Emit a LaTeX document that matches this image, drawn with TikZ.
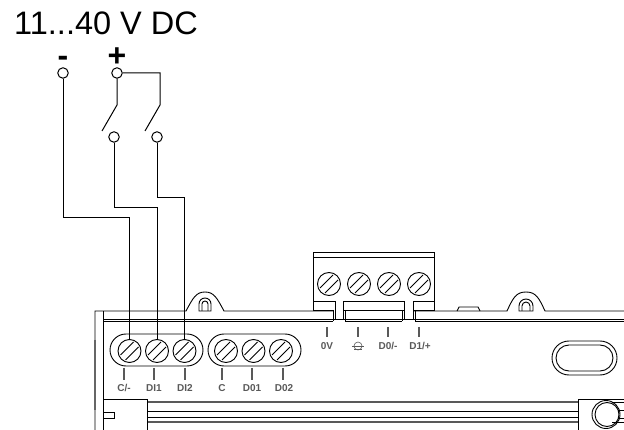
\documentclass[tikz,border=0pt]{standalone}
\usepackage{fontspec}
\setmainfont{Liberation Sans}
\usetikzlibrary{positioning}

\tikzset{
  term/.style={circle, draw, line width=1pt, fill=white, minimum size=10.5pt, inner sep=0pt},
  wire/.style={line width=1pt},
  body/.style={line width=0.9pt},
  faint/.style={line width=1.3pt, black!65},
  tick/.style={line width=1.8pt, black!65},
  tag/.style={font=\bfseries\fontsize{10}{10}\selectfont, text=black!65, inner sep=0pt},
  screw/.style={circle, draw, line width=0.9pt, fill=white, minimum size=23pt, inner sep=0pt,
    path picture={
      \draw[line width=0.8pt] ([shift={(-9pt,-4pt)}]path picture bounding box.center) -- ([shift={(4pt,9pt)}]path picture bounding box.center);
      \draw[line width=0.8pt] ([shift={(-4pt,-9pt)}]path picture bounding box.center) -- ([shift={(9pt,4pt)}]path picture bounding box.center);
    }},
  oblong/.style={rounded corners=#1, draw, line width=0.9pt},
  oblong/.default=16pt
}

\begin{document}
\begin{tikzpicture}[x=1pt,y=-1pt,node distance=27.5pt,on grid]
   \useasboundingbox (0,0) rectangle (624,430);

   % housing
   \draw[body] (95,430) -- (95,311) -- (186,311) .. controls (193,298) and (196,292) .. (205,292)
      .. controls (214,292) and (217,298) .. (224,311) -- (333,311);
   \draw[body] (103,430) -- (103,311);
   \draw[line width=1.6pt, black!60] (95,340) -- (95,410);
   \draw[body] (103,319) -- (335,319) (343,319) -- (404,319) (413,319) -- (624,319);
   \draw[body] (103,321) -- (333,321) (345,321) -- (402,321) (415,321) -- (624,321);
   \draw[body] (414,311) -- (507,311) .. controls (513,298) and (516,292) .. (526,292)
      .. controls (536,292) and (539,298) .. (545,311) -- (624,311);
   \draw[body] (457,311) -- (459,307) -- (478,307) -- (480,311);

   % hinges
   \draw[body] (199,311) -- (199,304) arc[start angle=180, end angle=360, x radius=6, y radius=6] -- (211,311) -- cycle;
   \draw[body] (202,311) -- (202,304) arc[start angle=180, end angle=360, x radius=3, y radius=3] -- (208,311);
   \draw[body] (519,311) -- (519,306) arc[start angle=180, end angle=360, x radius=7, y radius=7] -- (533,311) -- cycle;
   \draw[body] (522,311) -- (522,306) arc[start angle=180, end angle=360, x radius=4, y radius=4] -- (530,311);

   % plug
   \draw[body] (333,310) -- (313,310) -- (313,252) -- (434,252) -- (434,310) -- (414,310);
   \draw[body] (313,257) -- (434,257);
   \draw[body] (313,301) -- (335,301) -- (335,319) -- (343,319) -- (343,301) -- (404,301)
      -- (404,319) -- (413,319) -- (413,301) -- (434,301);
   \draw[body] (343,310) -- (404,310);
   \draw[body] (333,310) -- (333,321) (345,310) -- (345,321) (402,310) -- (402,321) (415,310) -- (415,321);

   % rails
   \draw[faint] (147,402) -- (578,402);
   \draw[body] (147,411) -- (578,411);
   \draw[body] (147,417) -- (578,417);
   \draw[faint] (147,422) -- (578,422);
   \draw[body] (103,399) -- (147,399) -- (147,430);
   \draw[body] (103,412) -- (114,412) -- (114,418) -- (103,418);
   \draw[body] (624,399) -- (578,399) -- (578,430);
   \draw[body] (612,402) -- (624,402) (618,410) -- (624,410) (618,418) -- (624,418) (612,422) -- (624,422);

   \node[circle, draw, line width=0.9pt, minimum size=28pt, inner sep=0pt] (knob) at (606,414.5) {};
   \node[circle, draw, line width=0.9pt, minimum size=24pt, inner sep=0pt] (knobin) at (607,414.5) {};

   % slot
   \draw[oblong=17pt] (552,341) rectangle (617,375);
   \draw[oblong=13pt] (556,345) rectangle (613,371);

   % terminal strips
   \draw[oblong] (110,334) rectangle (203,366);
   \draw[oblong] (208,334) rectangle (301,366);

   \node[screw] (scm)  at (129.5,351) {};
   \node[screw] (sdi1) [right=of scm]  {};
   \node[screw] (sdi2) [right=of sdi1] {};
   \node[screw] (sc)   at (226,351) {};
   \node[screw] (sd01) [right=of sc]   {};
   \node[screw] (sd02) [right=of sd01] {};

   \node[screw] (s0v)  at (329,284) {};
   \node[screw] (sgnd) [right=30pt of s0v]  {};
   \node[screw] (sd0)  [right=30pt of sgnd] {};
   \node[screw] (sd1)  [right=30pt of sd0]  {};

   % tags
   \node[tag] (lcm)  at (124,388) {C/-};
   \node[tag] (ldi1) at (154,388) {DI1};
   \node[tag] (ldi2) at (185,388) {DI2};
   \node[tag] (lc)   at (222,388) {C};
   \node[tag] (ld01) at (252,388) {D01};
   \node[tag] (ld02) at (284,388) {D02};
   \node[tag] (l0v)  at (327,346) {0V};
   \node[tag] (ld0)  at (388,346) {D0/-};
   \node[tag] (ld1)  at (420,346) {D1/+};

   \draw[tick] (124,368) -- (124,380);
   \draw[tick] (154,368) -- (154,380);
   \draw[tick] (185,368) -- (185,380);
   \draw[tick] (222,368) -- (222,380);
   \draw[tick] (252,368) -- (252,380);
   \draw[tick] (283,368) -- (283,380);
   \draw[tick] (327,327) -- (327,337);
   \draw[tick] (358,327) -- (358,337);
   \draw[tick] (388,327) -- (388,337);
   \draw[tick] (419,327) -- (419,337);

   % earth mark
   \node[circle, draw=black!65, line width=0.6pt, minimum size=8pt, inner sep=0pt] (lgnd) at (358,346) {};
   \draw[line width=0.7pt, black!65] (352,346) -- (364,346);
   \draw[line width=0.7pt, black!65] (354,349) -- (362,349);

   % supply
   \node[font=\fontsize{32.5}{32.5}\selectfont, inner sep=0pt, anchor=base west] (title) at (14,35) {11...40 V DC};
   \node[font=\bfseries\fontsize{32}{32}\selectfont, inner sep=0pt, anchor=base] (lneg) at (63,67) {-};
   \node[font=\bfseries\fontsize{32}{32}\selectfont, inner sep=0pt, anchor=base] (lpos) at (117,67) {+};

   \node[term] (neg) at (63,73)  {};
   \node[term] (pos) at (117,73) {};
   \node[term] (swa) at (114,137) {};
   \node[term] (swb) at (157,137) {};

   \coordinate (atop) at (117,105);
   \coordinate (aend) at (102,131);
   \coordinate (btop) at (160,105);
   \coordinate (bend) at (145,131);

   \draw[wire] (pos.south) -- (atop) -- (aend);
   \draw[wire] (pos.east) -| (btop) -- (bend);

   \coordinate (runa) at (0,218);
   \coordinate (runb) at (0,208);
   \coordinate (runc) at (0,198);

   \draw[wire] (neg.south) |- (runa -| scm) -- (scm.north);
   \draw[wire] (swa.south) |- (runb -| sdi1) -- (sdi1.north);
   \draw[wire] (swb.south) |- (runc -| sdi2) -- (sdi2.north);
\end{tikzpicture}
\end{document}
